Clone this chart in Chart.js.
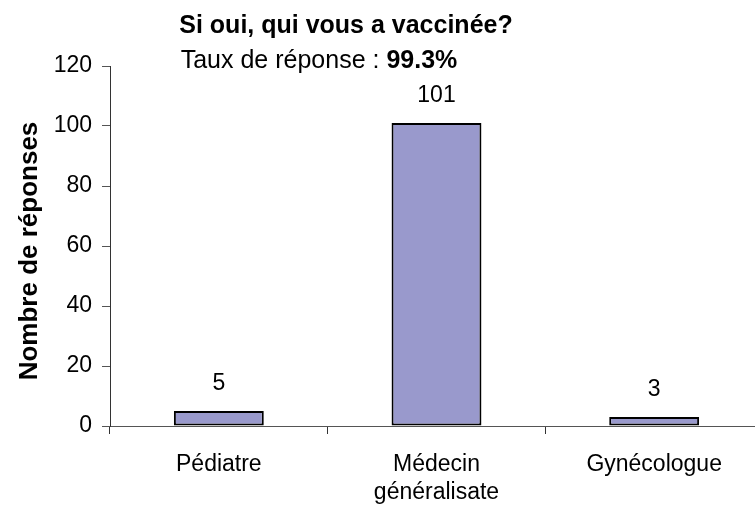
<!DOCTYPE html>
<html>
<head>
<meta charset="utf-8">
<script src="https://cdn.jsdelivr.net/npm/chart.js@4/dist/chart.umd.min.js"></script>
<style>
  html, body { margin: 0; padding: 0; background: #fff; overflow: hidden; width: 755px; height: 505px; }
  #wrap { width: 763px; height: 505px; }
</style>
</head>
<body>
<div id="wrap"><canvas id="c" width="763" height="505"></canvas></div>
<script>
const categories = [["Pédiatre"], ["Médecin", "généralisate"], ["Gynécologue"]];
const responses = [5, 101, 3];
const yMin = 0;
const yMax = 120;
const yStep = 20;
const chartTitle = "Si oui, qui vous a vaccinée?";
const subtitleLabel = "Taux de réponse : ";
const subtitleValue = "99.3%";
const yAxisTitle = "Nombre de réponses";

const FONT = "'Liberation Sans', Arial, sans-serif";

const textPlugin = {
  id: 'texts',
  afterDatasetsDraw(chart) {
    const ctx = chart.ctx;
    ctx.save();
    ctx.fillStyle = '#000';
    // title
    ctx.font = "bold 25px " + FONT;
    ctx.textAlign = 'center';
    ctx.textBaseline = 'middle';
    ctx.fillText(chartTitle, 346, 26);
    // subtitle (mixed weight)
    ctx.font = "25px " + FONT;
    const w1 = ctx.measureText(subtitleLabel).width;
    ctx.font = "bold 25px " + FONT;
    const w2 = ctx.measureText(subtitleValue).width;
    let x0 = 319 - (w1 + w2) / 2;
    ctx.textAlign = 'left';
    ctx.font = "25px " + FONT;
    ctx.fillText(subtitleLabel, x0, 61);
    ctx.font = "bold 25px " + FONT;
    ctx.fillText(subtitleValue, x0 + w1, 61);
    // y axis title
    ctx.save();
    ctx.translate(30, 251);
    ctx.rotate(-Math.PI / 2);
    ctx.textAlign = 'center';
    ctx.font = "bold 26px " + FONT;
    ctx.fillText(yAxisTitle, 0, 0);
    ctx.restore();
    // data labels
    const meta = chart.getDatasetMeta(0);
    ctx.font = "23px " + FONT;
    ctx.textAlign = 'center';
    meta.data.forEach((bar, i) => {
      ctx.fillText(String(responses[i]), bar.x, bar.y - 27);
    });
    ctx.restore();
  }
};

new Chart(document.getElementById('c'), {
  type: 'bar',
  data: {
    labels: categories,
    datasets: [{
      data: responses,
      backgroundColor: '#9999CC',
      borderColor: '#000000',
      borderWidth: 2,
      borderSkipped: false,
      barPercentage: 0.413,
      categoryPercentage: 1.0
    }]
  },
  options: {
    responsive: false,
    animation: false,
    devicePixelRatio: 1,
    layout: { padding: { top: 66, left: 0, right: 0, bottom: 0 } },
    plugins: { legend: { display: false }, tooltip: { enabled: false }, title: { display: false } },
    scales: {
      x: {
        afterFit(scale) { scale.height = 79; },
        border: { display: true, color: '#555', width: 1 },
        grid: { display: true, drawOnChartArea: false, drawTicks: true, tickLength: 8, color: '#333', offset: true },
        ticks: { color: '#000', font: { family: FONT, size: 23, lineHeight: 1.25 }, padding: 16, maxRotation: 0, autoSkip: false }
      },
      y: {
        min: yMin, max: yMax,
        afterFit(scale) { scale.width = 110; },
        border: { display: true, color: '#333', width: 1 },
        grid: { display: true, drawOnChartArea: false, drawTicks: true, tickLength: 8, color: '#555' },
        ticks: { stepSize: yStep, color: '#000', font: { family: FONT, size: 23 }, padding: 10 }
      }
    }
  },
  plugins: [textPlugin]
});
</script>
</body>
</html>
